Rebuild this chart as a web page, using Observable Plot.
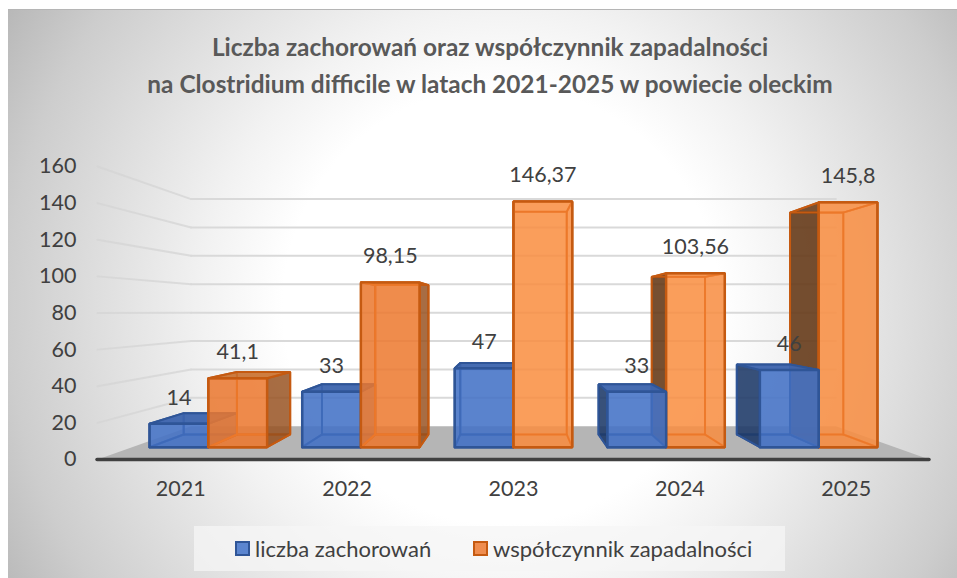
<!DOCTYPE html>
<html lang="pl">
<head>
<meta charset="utf-8">
<script src="https://cdn.jsdelivr.net/npm/d3@7"></script>
<script src="https://cdn.jsdelivr.net/npm/@observablehq/plot@0.6"></script>
<style>
html,body{margin:0;padding:0;background:#fff;overflow:hidden}
#panel{position:absolute;left:8px;top:9px;width:949px;height:569px;border-top:1px solid #b5b5b5;box-sizing:border-box;
  background:radial-gradient(circle at 52% 52%,#fff 38%,#f2f2f2 52%,#cdcdcd 86%,#b8b8b8 100%);font-family:Lato,sans-serif;color:#404040}
#title{height:110px;box-sizing:border-box;padding-top:18px;text-align:center;font-weight:700;font-size:24.4px;line-height:37px;color:#595959;margin-left:15px}
#chart svg{display:block;margin-left:-8px;max-width:none!important}
#legend{position:absolute;left:186px;top:516px;width:591px;height:45px;background:rgba(245,245,245,.75);font-size:22px;line-height:45px}
#legend span{position:absolute;white-space:nowrap}
#legend i{position:absolute;top:15px;width:11px;height:11px;border:2px solid}
</style>
</head>
<body>
<div id="panel">
  <div id="title">Liczba zachorowań oraz współczynnik zapadalności<br>na Clostridium difficile w latach 2021-2025 w powiecie oleckim</div>
  <div id="chart"></div>
  <div id="legend">
    <i style="left:41px;background:#5b85cf;border-color:#2f5597"></i><span style="left:61px">liczba zachorowań</span>
    <i style="left:279px;background:#ef8d4f;border-color:#c55a11"></i><span style="left:299px">współczynnik zapadalności</span>
  </div>
</div>
<script>
const years = [2021, 2022, 2023, 2024, 2025];
const cases = [14, 33, 47, 33, 46];
const rates = [41.1, 98.15, 146.37, 103.56, 145.8];
const yTicks = [0, 20, 40, 60, 80, 100, 120, 140, 160];

// Perspective of the 3-D scene, in data units
const vanishC = 2.5, vanishV = 80.9, shrink = 0.225;
const barFront = 0.369, barBack = 0.751, barW = 0.385;
const project = (c, v, d) => {
  const s = 1 - shrink * d;
  return {c: vanishC + (c - vanishC) * s, v: vanishV + (v - vanishV) * s};
};

const orangeFronts = ["#ec7930", "#ec7930", "#f98e42", "#f98e42", "#f98e42"];
const looks = {
  blue: {
    stroke: "#2f5597", inner: "#3f6ab8",
    back: ["#4f79c4", 0.1], bottom: ["#2f5597", 0.25], left: ["#1f3a68", 0.88], right: ["#2f5597", 0.55],
    top: ["#3d64ad", 0.95], front: ["#4573c6", 0.88]
  },
  orange: {
    stroke: "#c55a11", inner: "#ec782a",
    back: ["#f08c44", 0.1], bottom: ["#c86a2a", 0.25], left: ["#5f3312", 0.86], right: ["#954f1f", 0.82],
    top: ["#c9702f", 0.9], front: ["#ec7930", 0.85]
  }
};

// Part of a segment that lies inside a rectangle (Liang-Barsky)
function clipSegment(p, q, r) {
  let t0 = 0, t1 = 1;
  const dc = q.c - p.c, dv = q.v - p.v;
  for (const [a, b] of [[-dc, p.c - r.c0], [dc, r.c1 - p.c], [-dv, p.v - r.v0], [dv, r.v1 - p.v]]) {
    if (a === 0) { if (b < 0) return null; continue; }
    const t = b / a;
    if (a < 0) t0 = Math.max(t0, t); else t1 = Math.min(t1, t);
    if (t0 >= t1) return null;
  }
  return [{c: p.c + t0 * dc, v: p.v + t0 * dv}, {c: p.c + t1 * dc, v: p.v + t1 * dv}];
}

const faces = [];
function addBar(i, series, value) {
  const x0 = series === "blue" ? i + 0.5 - barW : i + 0.5;
  const x1 = x0 + barW;
  const P = {
    a: [x0, 0, barFront], b: [x1, 0, barFront], c: [x1, value, barFront], d: [x0, value, barFront],
    e: [x0, 0, barBack],  f: [x1, 0, barBack],  g: [x1, value, barBack],  h: [x0, value, barBack]
  };
  const look = looks[series];
  const quads = {back: "efgh", bottom: "abfe", left: "aehd", right: "bfgc", top: "dcgh", front: "abcd"};
  for (const name of ["back", "bottom", "left", "right", "top", "front"]) {
    let [fill, alpha] = look[name];
    if (series === "orange" && name === "front") fill = orangeFronts[i];
    if (name === "left" && x0 <= vanishC) alpha = 0.08;
    if (name === "right" && x1 >= vanishC) alpha = 0.08;
    if (name === "top" && value > vanishV) alpha = 0.08;
    const id = `${i}-${series}-${name}`;
    for (const k of quads[name] + quads[name][0]) {
      const p = project(...P[k]);
      faces.push({id, c: p.c, v: p.v, fill, alpha, stroke: look.stroke, sw: 2});
    }
  }
  // edges seen through the translucent front
  const fa = project(...P.a), fc = project(...P.c);
  const rect = {c0: fa.c, c1: fc.c, v0: fa.v, v1: fc.v};
  for (const e of ["ef", "fg", "gh", "he", "ae", "bf", "cg", "dh"]) {
    const seg = clipSegment(project(...P[e[0]]), project(...P[e[1]]), rect);
    if (!seg || Math.hypot(seg[0].c - seg[1].c, (seg[0].v - seg[1].v) / 100) < 0.005) continue;
    const id = `${i}-${series}-edge-${e}`;
    for (const p of seg) faces.push({id, c: p.c, v: p.v, fill: look.inner, alpha: 0, stroke: look.inner, sw: 1.6});
  }
  // front outline again, above those edges
  for (const k of "abcda") {
    const p = project(...P[k]);
    faces.push({id: `${i}-${series}-outline`, c: p.c, v: p.v, fill: look.stroke, alpha: 0, stroke: look.stroke, sw: 2.4});
  }
}
years.forEach((y, i) => {
  if (i < 3) { addBar(i, "blue", cases[i]); addBar(i, "orange", rates[i]); }
  else { addBar(i, "orange", rates[i]); addBar(i, "blue", cases[i]); }
});

const floor = [[0,0],[5,0],[5,1],[0,1]].map(([c, d]) => project(c, 0, d));
const backGrid = yTicks.filter(t => t > 0).flatMap(t => [0, 5].map(c => ({t, ...project(c, t, 1)})));
const wallGrid = yTicks.filter(t => t > 0).flatMap(t => [0, 1].map(d => ({t, ...project(0, t, d)})));
const labels = years.flatMap((y, i) => [
  {text: String(cases[i]), ...project(i + 0.5 - barW / 2, cases[i], barFront)},
  {text: String(rates[i]).replace(".", ","), ...project(i + 0.5 + barW / 2, rates[i], barFront)}
]);

const plot = Plot.plot({
  width: 957, height: 390,
  marginLeft: 97, marginRight: 28, marginTop: 46, marginBottom: 51,
  x: {domain: [0, 5], axis: null},
  y: {domain: [0, 160], axis: null},
  style: {background: "transparent", fontFamily: "Lato, sans-serif", fontSize: "21.5px", color: "#404040", overflow: "visible"},
  marks: [
    Plot.line(wallGrid, {x: "c", y: "v", z: "t", stroke: "#d4d4d4", strokeWidth: 2, strokeOpacity: 0.75}),
    Plot.line(backGrid, {x: "c", y: "v", z: "t", stroke: "#d9d9d9", strokeWidth: 2}),
    Plot.line(floor, {x: "c", y: "v", fill: "#b5b5b5", stroke: "none"}),
    Plot.line(faces, {x: "c", y: "v", z: "id", fill: "fill", fillOpacity: "alpha", stroke: "stroke", strokeWidth: "sw", strokeLinejoin: "miter"}),
    Plot.ruleY([0], {x1: 0, x2: 5, stroke: "#404040", strokeWidth: 3.5, strokeLinecap: "round"}),
    Plot.axisY(yTicks, {anchor: "left", tickSize: 0, tickPadding: 21, label: null}),
    Plot.axisX(years.map((y, i) => i + 0.5), {anchor: "bottom", tickSize: 0, tickPadding: 21, label: null, tickFormat: t => String(years[t - 0.5])}),
    Plot.text(labels, {x: "c", y: "v", text: "text", dy: -26, textAnchor: "middle"})
  ]
});
document.getElementById("chart").appendChild(plot);
</script>
</body>
</html>
